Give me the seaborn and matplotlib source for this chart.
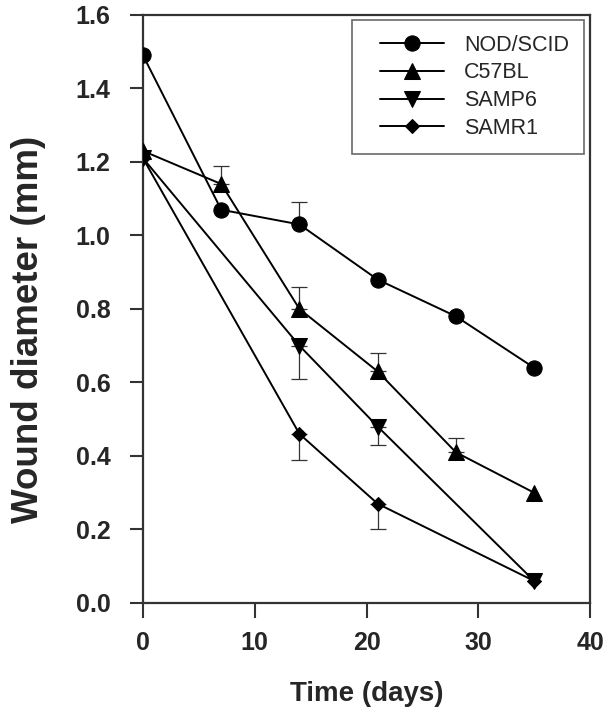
import numpy as np
import pandas as pd
import seaborn as sns
import matplotlib
matplotlib.use('Agg')
import matplotlib.pyplot as plt
from matplotlib.lines import Line2D
from matplotlib.legend_handler import HandlerLine2D

#%% data
strains = ['NOD/SCID', 'C57BL', 'SAMP6', 'SAMR1']
markers = ['o', '^', 'v', 'D']

daysNOD = [0, 7, 14, 21, 28, 35]
woundNOD = [1.49, 1.07, 1.03, 0.88, 0.78, 0.64]
errNOD = [0, 0, 0.06, 0, 0, 0]

daysC57 = [0, 7, 14, 21, 28, 35]
woundC57 = [1.23, 1.14, 0.80, 0.63, 0.41, 0.30]
errC57 = [0, 0.05, 0.06, 0.05, 0.04, 0]

daysP6 = [0, 14, 21, 35]
woundP6 = [1.21, 0.70, 0.48, 0.06]
errP6 = [0, 0.09, 0.05, 0]

daysR1 = [0, 14, 21, 35]
woundR1 = [1.21, 0.46, 0.27, 0.06]
errR1 = [0, 0.07, 0.07, 0]

#%% tidy frame
dfs = []
for name, d, w in zip(strains, [daysNOD, daysC57, daysP6, daysR1],
                      [woundNOD, woundC57, woundP6, woundR1]):
    dfs.append(pd.DataFrame({'day': d, 'wound': w, 'strain': name}))
dfPlot = pd.concat(dfs, ignore_index=True)

#%% plot settings
sns.set_style('ticks')
plt.rcParams['font.family'] = ['Liberation Sans', 'DejaVu Sans']

fig = plt.figure(figsize=(6.06, 7.13), dpi=100)
ax = fig.add_axes([0.236, 0.1543, 0.7376, 0.8247])

# error bars: upper for the top two strains, lower for the bottom two
errSides = [(daysNOD, woundNOD, errNOD, 'up'), (daysC57, woundC57, errC57, 'up'),
            (daysP6, woundP6, errP6, 'down'), (daysR1, woundR1, errR1, 'down')]
for d, w, e, side in errSides:
    e = np.array(e)
    keep = e > 0
    zeros = np.zeros(keep.sum())
    yerr = [zeros, e[keep]] if side == 'up' else [e[keep], zeros]
    ax.errorbar(np.array(d)[keep], np.array(w)[keep], yerr=yerr, fmt='none',
                ecolor='#333333', elinewidth=0.9, capsize=6, capthick=0.9, zorder=1)

sns.lineplot(data=dfPlot, x='day', y='wound', hue='strain', style='strain',
             hue_order=strains, style_order=strains, palette=['black'] * 4,
             markers=markers, dashes=False, markersize=11, markeredgecolor='black',
             linewidth=1.4, ax=ax, zorder=3)
# diamonds drawn a bit smaller
for ln in ax.lines:
    if ln.get_marker() == 'D':
        ln.set_markersize(7.6)

ax.set_xlim(0, 40)
ax.set_ylim(0, 1.6)
ax.set_xticks([0, 10, 20, 30, 40])
ax.set_yticks(np.arange(0, 1.61, 0.2))
ax.set_yticklabels([f'{v:.1f}' for v in np.arange(0, 1.61, 0.2)])
ax.set_xlabel('Time (days)', fontsize=20, fontweight='bold')
ax.set_ylabel('Wound diameter (mm)', fontsize=26.5, fontweight='bold')
ax.xaxis.set_label_coords(0.5, -0.133)
ax.yaxis.set_label_coords(-0.217, 0.465)
ax.tick_params(axis='x', direction='out', length=11, width=1.5, labelsize=18, pad=9,
               color='#333333')
ax.tick_params(axis='y', direction='out', length=9.5, width=1.5, labelsize=18, pad=14,
               color='#333333')
for lab in ax.get_xticklabels() + ax.get_yticklabels():
    lab.set_fontweight('bold')
for sp in ax.spines.values():
    sp.set_linewidth(1.6)
    sp.set_color('#333333')
    sp.set_visible(True)

leg = ax.legend(loc='upper right', bbox_to_anchor=(0.9866, 0.9915), fontsize=15.5,
                frameon=True, fancybox=False, edgecolor='#444444', handlelength=3.6,
                handletextpad=0.93, borderpad=0.69, labelspacing=0.31, borderaxespad=0,
                handler_map={Line2D: HandlerLine2D(xpad=0.6)})
leg.get_frame().set_linewidth(1.2)
for h in leg.get_lines():
    if h.get_marker() == 'D':
        h.set_markersize(7.6)

plt.savefig('out.png', dpi=100)
plt.close()
